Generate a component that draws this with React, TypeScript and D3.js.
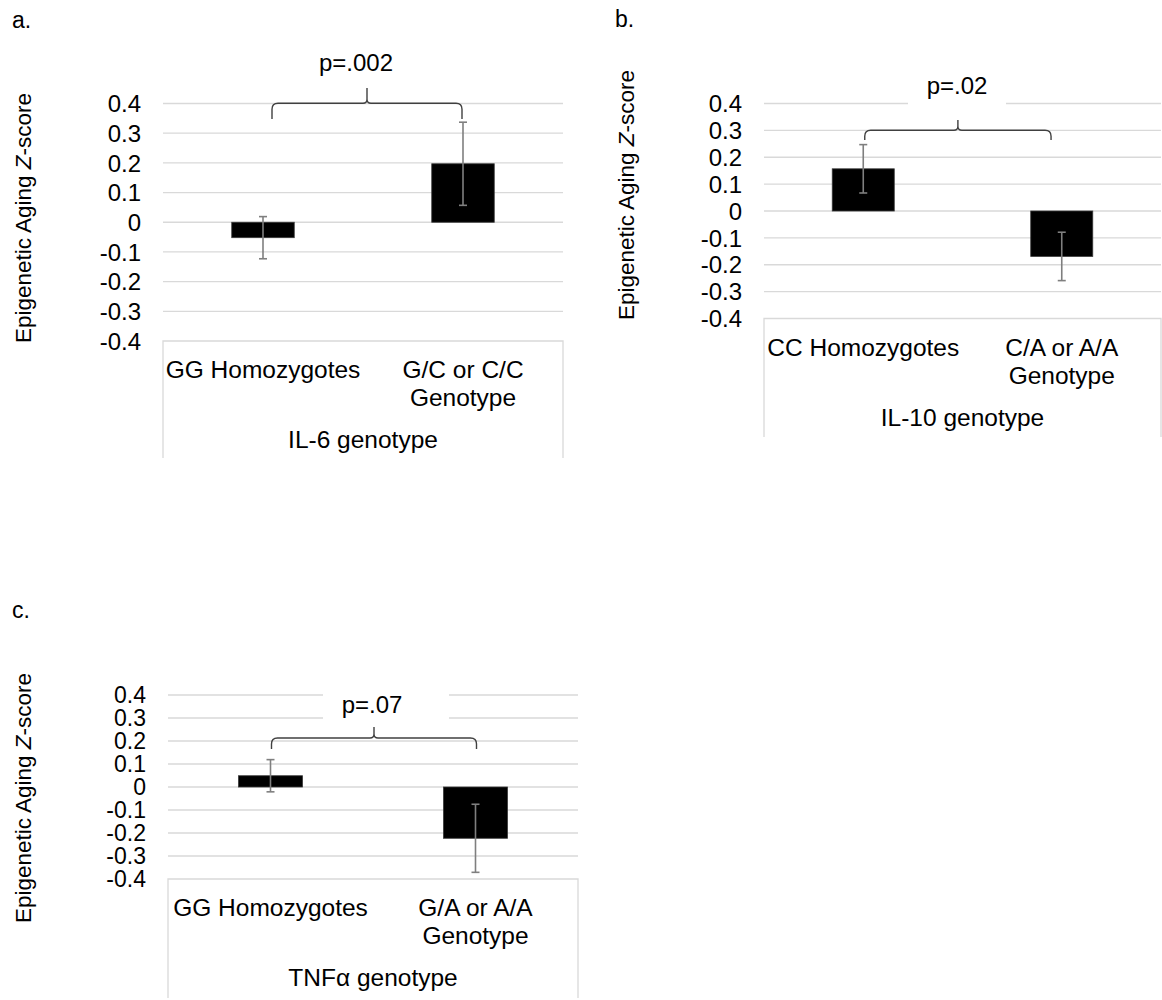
import { useRef, useEffect } from "react";
import * as d3 from "d3";

// values
const yTicks = [0.4, 0.3, 0.2, 0.1, 0, -0.1, -0.2, -0.3, -0.4];

const il6Categories = [["GG Homozygotes"], ["G/C or C/C", "Genotype"]];
const il6Means = [-0.052, 0.197];
const il6Errors = [0.071, 0.14];

const il10Categories = [["CC Homozygotes"], ["C/A or A/A", "Genotype"]];
const il10Means = [0.157, -0.169];
const il10Errors = [0.09, 0.09];

const tnfCategories = [["GG Homozygotes"], ["G/A or A/A", "Genotype"]];
const tnfMeans = [0.049, -0.223];
const tnfErrors = [0.07, 0.148];

const pLabels = ["p=.002", "p=.02", "p=.07"];
const genotypeTitles = ["IL-6 genotype", "IL-10 genotype", "TNFα genotype"];
const panelLetters = ["a.", "b.", "c."];

interface Panel {
  letter: string;
  categories: string[][];
  means: number[];
  errors: number[];
  pLabel: string;
  xTitle: string;
  // layout
  left: number;
  right: number;
  top: number;
  bottom: number;
  boxBottom: number;
  tickSize: number;
  letterPos: [number, number];
  yTitlePos: [number, number];
  pPos: [number, number];
  gridBreak: [number, number] | null;
  bracket: { dx1: number; dx2: number; tipY: number; hY: number; legY: number };
}

const panels: Panel[] = [
  {
    letter: panelLetters[0],
    categories: il6Categories,
    means: il6Means,
    errors: il6Errors,
    pLabel: pLabels[0],
    xTitle: genotypeTitles[0],
    left: 163,
    right: 563,
    top: 103.5,
    bottom: 341,
    boxBottom: 458,
    tickSize: 24,
    letterPos: [12, 28],
    yTitlePos: [31, 218],
    pPos: [356, 70.7],
    gridBreak: null,
    bracket: { dx1: 9, dx2: -1, tipY: 88, hY: 103.3, legY: 119 },
  },
  {
    letter: panelLetters[1],
    categories: il10Categories,
    means: il10Means,
    errors: il10Errors,
    pLabel: pLabels[1],
    xTitle: genotypeTitles[1],
    left: 764,
    right: 1161,
    top: 103.5,
    bottom: 318.5,
    boxBottom: 437,
    tickSize: 24,
    letterPos: [615, 27],
    yTitlePos: [634, 195],
    pPos: [957, 94.3],
    gridBreak: [908, 1006],
    bracket: { dx1: 1.5, dx2: -10.7, tipY: 120, hY: 130.3, legY: 140 },
  },
  {
    letter: panelLetters[2],
    categories: tnfCategories,
    means: tnfMeans,
    errors: tnfErrors,
    pLabel: pLabels[2],
    xTitle: genotypeTitles[2],
    left: 168,
    right: 578,
    top: 695,
    bottom: 879,
    boxBottom: 998,
    tickSize: 23,
    letterPos: [12, 618],
    yTitlePos: [31, 798],
    pPos: [372, 713.3],
    gridBreak: [323, 449],
    bracket: { dx1: 1, dx2: 1, tipY: 727, hY: 738, legY: 749 },
  },
];

const FONT = "'Liberation Sans', Arial, Helvetica, sans-serif";
const GRID = "#d9d9d9";

const tickText = (d: number) => (d === 0 ? "0" : d.toFixed(1));

function drawPanel(root: d3.Selection<SVGSVGElement, unknown, null, undefined>, p: Panel) {
  const g = root.append("g");

  const x = d3
    .scaleBand<number>()
    .domain(p.means.map((_, i) => i))
    .range([p.left, p.right])
    .padding(0);
  const y = d3.scaleLinear().domain([-0.4, 0.4]).range([p.bottom, p.top]);
  const barW = x.bandwidth() * 0.3125;

  // gridlines
  g.selectAll(".grid")
    .data(yTicks.filter((t) => t > -0.4))
    .join("line")
    .attr("x1", p.left)
    .attr("x2", p.right)
    .attr("y1", (d) => y(d))
    .attr("y2", (d) => y(d))
    .attr("stroke", GRID)
    .attr("stroke-width", 1.3);

  // category box (top line at -0.4 and vertical sides)
  g.append("path")
    .attr("d", `M${p.left},${p.boxBottom}V${y(-0.4)}H${p.right}V${p.boxBottom}`)
    .attr("fill", "none")
    .attr("stroke", GRID)
    .attr("stroke-width", 1.3);

  // tick labels
  g.selectAll(".tick")
    .data(yTicks)
    .join("text")
    .attr("x", p.left - 22)
    .attr("y", (d) => y(d))
    .attr("dy", "0.36em")
    .attr("text-anchor", "end")
    .attr("font-size", p.tickSize)
    .attr("font-family", FONT)
    .attr("fill", "#000")
    .text(tickText);

  // bars
  g.selectAll(".bar")
    .data(p.means)
    .join("rect")
    .attr("x", (_, i) => (x(i) as number) + x.bandwidth() / 2 - barW / 2)
    .attr("y", (d) => y(Math.max(0, d)))
    .attr("width", barW)
    .attr("height", (d) => Math.abs(y(d) - y(0)))
    .attr("fill", "#000")
    .attr("stroke", "#3a3a3a")
    .attr("stroke-width", 0.8);

  // error bars
  p.means.forEach((m, i) => {
    const cx = (x(i) as number) + x.bandwidth() / 2;
    const e = p.errors[i];
    const eg = g.append("g").attr("stroke", "#7f7f7f").attr("stroke-width", 1.6);
    eg.append("line").attr("x1", cx).attr("x2", cx).attr("y1", y(m + e)).attr("y2", y(m - e));
    [m + e, m - e].forEach((v) => {
      eg.append("line")
        .attr("x1", cx - 4)
        .attr("x2", cx + 4)
        .attr("y1", y(v))
        .attr("y2", y(v));
    });
  });

  // white box behind the p label where it crosses the grid
  if (p.gridBreak) {
    g.append("rect")
      .attr("x", p.gridBreak[0])
      .attr("y", p.pPos[1] - 24)
      .attr("width", p.gridBreak[1] - p.gridBreak[0])
      .attr("height", 36)
      .attr("fill", "#fff");
  }

  // curly bracket
  const b = p.bracket;
  const c0 = (x(0) as number) + x.bandwidth() / 2;
  const c1 = (x(1) as number) + x.bandwidth() / 2;
  const x1 = c0 + b.dx1;
  const x2 = c1 + b.dx2;
  const xm = (x1 + x2) / 2;
  const r = 6;
  const t = 4;
  const path = [
    `M${x1},${b.legY}`,
    `L${x1},${b.hY + r}`,
    `Q${x1},${b.hY} ${x1 + r},${b.hY}`,
    `L${xm - t},${b.hY}`,
    `Q${xm},${b.hY} ${xm},${b.hY - t}`,
    `L${xm},${b.tipY}`,
    `M${xm},${b.hY - t}`,
    `Q${xm},${b.hY} ${xm + t},${b.hY}`,
    `L${x2 - r},${b.hY}`,
    `Q${x2},${b.hY} ${x2},${b.hY + r}`,
    `L${x2},${b.legY}`,
  ].join("");
  g.append("path")
    .attr("d", path)
    .attr("fill", "none")
    .attr("stroke", "#404040")
    .attr("stroke-width", 1.4);

  // p label
  g.append("text")
    .attr("x", p.pPos[0])
    .attr("y", p.pPos[1])
    .attr("text-anchor", "middle")
    .attr("font-size", 24)
    .attr("font-family", FONT)
    .text(p.pLabel);

  // category labels
  const boxTop = y(-0.4);
  p.categories.forEach((lines, i) => {
    const cx = (x(i) as number) + x.bandwidth() / 2;
    const tx = g
      .append("text")
      .attr("text-anchor", "middle")
      .attr("font-size", 24.5)
      .attr("font-family", FONT);
    lines.forEach((line, j) => {
      tx.append("tspan")
        .attr("x", cx)
        .attr("y", boxTop + 37 + j * 28)
        .text(line);
    });
  });

  // genotype title
  g.append("text")
    .attr("x", (p.left + p.right) / 2)
    .attr("y", boxTop + 107)
    .attr("text-anchor", "middle")
    .attr("font-size", 24.5)
    .attr("font-family", FONT)
    .text(p.xTitle);

  // y-axis title
  const yt = g
    .append("text")
    .attr("transform", `translate(${p.yTitlePos[0]},${p.yTitlePos[1]}) rotate(-90)`)
    .attr("text-anchor", "middle")
    .attr("font-size", 22.5)
    .attr("font-family", FONT);
  yt.append("tspan").text("Epigenetic Aging ");
  yt.append("tspan").attr("font-style", "italic").text("Z");
  yt.append("tspan").text("-score");

  // panel letter
  g.append("text")
    .attr("x", p.letterPos[0])
    .attr("y", p.letterPos[1])
    .attr("font-size", 23)
    .attr("font-family", FONT)
    .text(p.letter);
}

const App: React.FC = () => {
  const svgRef = useRef<SVGSVGElement | null>(null);

  useEffect(() => {
    if (!svgRef.current) return;
    const svg = d3.select(svgRef.current);
    svg.selectAll("*").remove();
    svg.append("rect").attr("width", 1162).attr("height", 1000).attr("fill", "#fff");
    panels.forEach((p) => drawPanel(svg, p));
  }, []);

  return (
    <svg
      ref={svgRef}
      width={1162}
      height={1000}
      style={{ position: "absolute", left: 0, top: 0 }}
    ></svg>
  );
};

export default App;
